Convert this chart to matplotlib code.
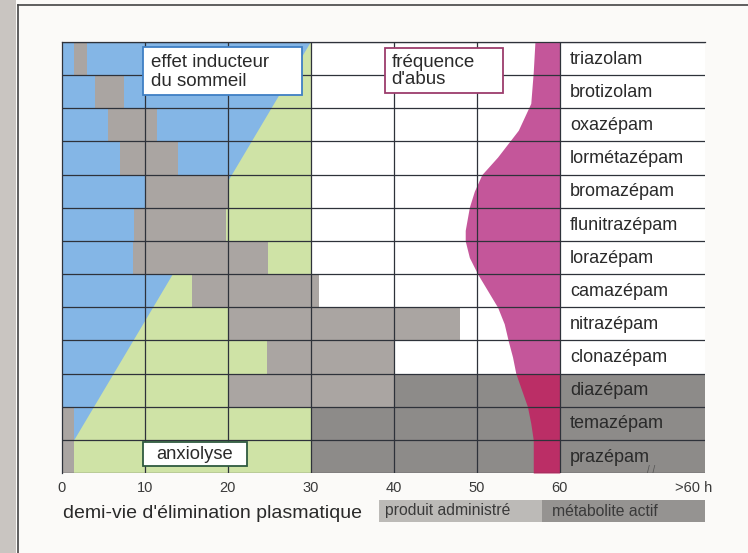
import matplotlib
matplotlib.use("Agg")
import matplotlib.pyplot as plt
from matplotlib.patches import Rectangle, Polygon
from matplotlib.lines import Line2D
import numpy as np

plt.rcParams["font.family"] = ["Liberation Sans", "DejaVu Sans"]

drugs = ["triazolam", "brotizolam", "oxazépam", "lormétazépam", "bromazépam",
         "flunitrazépam", "lorazépam", "camazépam", "nitrazépam", "clonazépam",
         "diazépam", "temazépam", "prazépam"]
# demi-vie du produit administré (h)
admin_start = [1.5, 4.0, 5.5, 7.0, 10.0, 8.7, 8.5, 15.7, 20.0, 24.7, 20.0, 0.0, 0.0]
admin_end = [3.0, 7.5, 11.4, 14.0, 20.0, 19.8, 24.8, 31.0, 48.0, 40.0, 40.0, 1.5, 1.5]
# métabolite actif (h) -> jusqu'à >60 h
metab_rows = [10, 11, 12]
metab_start = [40.0, 30.0, 30.0]
# limite effet inducteur du sommeil / anxiolyse
sleep_top = 30.0
sleep_bottom = 1.5
# fréquence d'abus : bord gauche de la courbe
abuse_y = [-0.5, 0.4, 1.35, 2.16, 2.97, 3.5, 4.0, 4.48, 5.18, 5.5, 6.0, 6.5, 7.0,
           7.5, 8.0, 8.53, 9.0, 9.5, 10.0, 10.5, 11.0, 11.5, 12.5]
abuse_x = [57.0, 56.8, 56.5, 55.0, 52.5, 50.6, 49.7, 49.1, 48.6, 48.6, 49.1, 50.1, 51.3,
           52.5, 53.3, 53.8, 54.3, 54.7, 55.4, 56.1, 56.5, 56.8, 56.8]
ticks = [0, 10, 20, 30, 40, 50, 60, 76.1]
tick_labels = ["0", "10", "20", "30", "40", "50", "60", ">60 h"]

xmax = 77.5
n = len(drugs)

c_blue = "#84b6e6"
c_green = "#cfe3a6"
c_admin = "#aaa5a2"
c_metab = "#8d8b89"
c_pink = "#c4569a"
c_crimson = "#bb2e66"
c_line = "#2e323a"

fig = plt.figure(figsize=(7.48, 5.53), dpi=100)
fig.patch.set_facecolor("#fbfaf8")
ax = fig.add_axes([62 / 748, 1 - 473 / 553, (705 - 62) / 748, (473 - 42) / 553])
ax.set_xlim(0, xmax)
ax.set_ylim(n - 0.5, -0.5)
ax.set_facecolor("white")

# fonds : anxiolyse (vert) et effet inducteur du sommeil (bleu)
ax.add_patch(Rectangle((0, -0.5), sleep_top, n, color=c_green, lw=0, zorder=1))
ax.add_patch(Polygon([(0, -0.5), (sleep_top, -0.5), (sleep_bottom, n - 1.5), (0, n - 1.5)],
                     closed=True, color=c_blue, lw=0, zorder=1.5))

# barres
y = np.arange(n)
ax.barh(y, np.array(admin_end) - np.array(admin_start), left=admin_start, height=1,
        color=c_admin, lw=0, zorder=2)
ax.barh(metab_rows, [xmax - s for s in metab_start], left=metab_start, height=1,
        color=c_metab, lw=0, zorder=2)

# fréquence d'abus
ay = np.array(abuse_y)
ax_ = np.array(abuse_x)
ax.fill_betweenx(ay, ax_, 60, where=ay <= 9.5, color=c_pink, lw=0, zorder=3)
ax.fill_betweenx(ay, ax_, 60, where=ay >= 9.5, color=c_crimson, lw=0, zorder=3)

# grille
for i in range(n + 1):
    ax.axhline(i - 0.5, color=c_line, lw=0.9, zorder=4)
for xv in [10, 20, 30, 40, 50, 60]:
    ax.plot([xv, xv], [-0.5, n - 0.5], color=c_line, lw=0.9, zorder=4)

for i, d in enumerate(drugs):
    ax.text(61.2, i + 0.02, d, va="center", ha="left", fontsize=13, color="#2a2a2a", zorder=5)

# encadrés
ax.add_patch(Rectangle((9.75, -0.35), 19.15, 1.45, facecolor="white", edgecolor="#3f7fc4",
                       lw=1.3, zorder=6))
ax.text(10.7, -0.13, "effet inducteur\ndu sommeil", va="top", ha="left", fontsize=13.5,
        color="#2a2a2a", linespacing=1.1, zorder=7)
ax.add_patch(Rectangle((38.9, -0.32), 14.2, 1.36, facecolor="white", edgecolor="#9c3d6c",
                       lw=1.3, zorder=6))
ax.text(39.7, -0.13, "fréquence\nd'abus", va="top", ha="left", fontsize=13.5,
        color="#2a2a2a", linespacing=1.0, zorder=7)
ax.add_patch(Rectangle((9.75, 11.58), 12.55, 0.72, facecolor="white", edgecolor="#2f5a40",
                       lw=1.3, zorder=6))
ax.text(16.0, 11.95, "anxiolyse", va="center", ha="center", fontsize=13.2,
        color="#2a2a2a", zorder=7)
ax.text(71.0, 12.42, "/ /", va="center", ha="center", fontsize=7, color="#555555", zorder=7)

ax.set_xticks(ticks)
ax.set_xticklabels(tick_labels)
ax.set_yticks([])
ax.tick_params(axis="x", length=0, pad=6, labelsize=10.5, labelcolor="#3a3a3a")
for s in ["right", "bottom"]:
    ax.spines[s].set_visible(False)
for s in ["left", "top"]:
    ax.spines[s].set_color(c_line)
    ax.spines[s].set_linewidth(0.9)

# légende du bas
fig.text(63 / 748, 1 - 513 / 553, "demi-vie d'élimination plasmatique", va="center",
         ha="left", fontsize=14, color="#2a2a2a")
fig.patches.append(Rectangle((379 / 748, 1 - 522 / 553), 163 / 748, 22 / 553,
                             transform=fig.transFigure, facecolor="#bcbab7", lw=0))
fig.patches.append(Rectangle((542 / 748, 1 - 522 / 553), 163 / 748, 22 / 553,
                             transform=fig.transFigure, facecolor="#959391", lw=0))
fig.text(385 / 748, 1 - 511 / 553, "produit administré", va="center", ha="left",
         fontsize=11.3, color="#3a3a3a")
fig.text(552 / 748, 1 - 511 / 553, "métabolite actif", va="center", ha="left",
         fontsize=11.3, color="#3a3a3a")

# cadre de la page
fig.patches.append(Rectangle((0, 0), 16 / 748, 1, transform=fig.transFigure,
                             facecolor="#c9c5c1", lw=0))
fig.lines.append(Line2D([18 / 748, 18 / 748], [0, 1 - 5 / 553], transform=fig.transFigure,
                        color="#444444", lw=1.2))
fig.lines.append(Line2D([18 / 748, 1], [1 - 5 / 553, 1 - 5 / 553], transform=fig.transFigure,
                        color="#444444", lw=1.2))

fig.savefig("out.png", dpi=100, facecolor=fig.get_facecolor())
